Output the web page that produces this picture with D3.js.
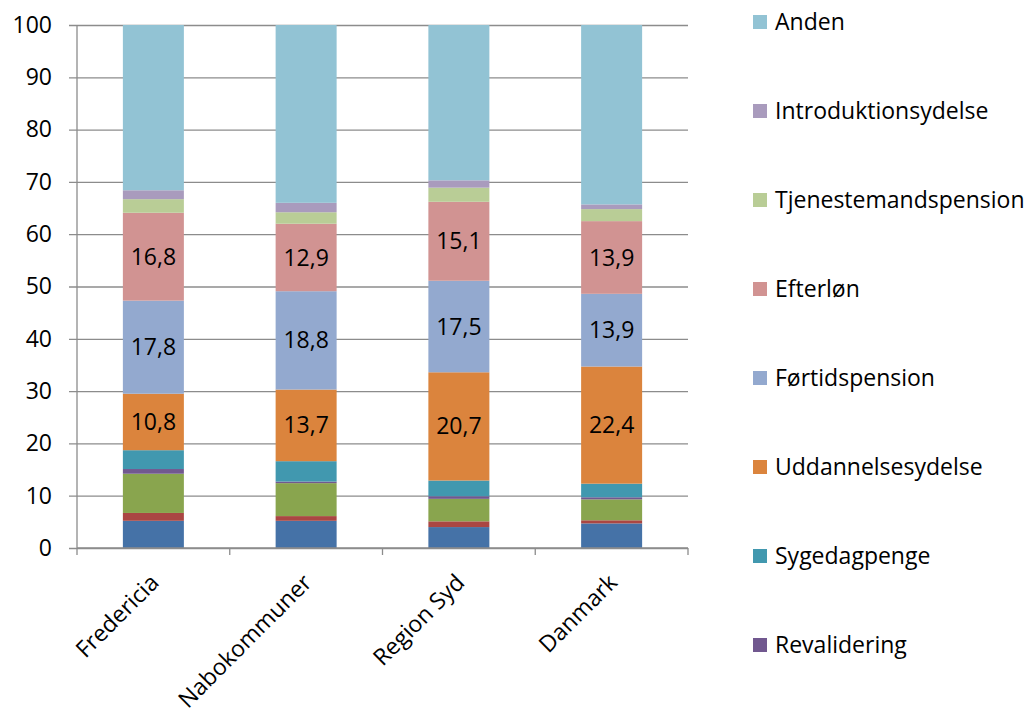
<!DOCTYPE html>
<html>
<head>
<meta charset="utf-8">
<script src="https://cdn.jsdelivr.net/npm/d3@7"></script>
<style>
  body { margin: 0; background: #fff; }
  svg { display: block; font-family: "Open Sans", "Liberation Sans", sans-serif; }
</style>
</head>
<body>
<svg id="chart" width="1028" height="713"></svg>
<script>
// categories on the x axis
const categories = ["Fredericia", "Nabokommuner", "Region Syd", "Danmark"];

// series, bottom to top (the three lowest are cut off the legend in the original)
const seriesNames = [
  "Dagpenge", "Kontanthjælp", "Aktivering", "Revalidering", "Sygedagpenge",
  "Uddannelsesydelse", "Førtidspension", "Efterløn", "Tjenestemandspension",
  "Introduktionsydelse", "Anden"
];
const seriesColors = [
  "#4572a7", "#aa4643", "#89a54e", "#71588f", "#4198af",
  "#db843d", "#93a9cf", "#d19392", "#b9cd96", "#a99bbd", "#92c3d4"
];

// percent values per series, in category order
const dagpenge        = [5.2, 5.2, 4.0, 4.7];
const kontant         = [1.5, 0.9, 1.1, 0.6];
const aktivering      = [7.5, 6.3, 4.3, 4.0];
const revalidering    = [0.9, 0.3, 0.5, 0.4];
const sygedagpenge    = [3.6, 3.9, 3.0, 2.6];
const uddannelse      = [10.8, 13.7, 20.7, 22.4];
const foertid         = [17.8, 18.8, 17.5, 13.9];
const efterloen       = [16.8, 12.9, 15.1, 13.9];
const tjenestemand    = [2.6, 2.2, 2.7, 2.3];
const introduktion    = [1.7, 1.8, 1.4, 0.9];
const anden           = [31.6, 34.0, 29.7, 34.3];

const seriesValues = [dagpenge, kontant, aktivering, revalidering, sygedagpenge,
  uddannelse, foertid, efterloen, tjenestemand, introduktion, anden];

// only these series carry data labels
const labelled = ["Uddannelsesydelse", "Førtidspension", "Efterløn"];

const yTicks = [0, 10, 20, 30, 40, 50, 60, 70, 80, 90, 100];

const config = {
  margin: { top: 25, left: 77 },
  plotWidth: 611,
  plotHeight: 523,
  barWidth: 61,
  legendX: 753,
  legendTop: 22,
  legendStep: 89,
  fontSize: 23
};

const svg = d3.select("#chart");
const W = +svg.attr("width"), H = +svg.attr("height");

const rows = categories.map((c, i) => {
  const r = { category: c };
  seriesNames.forEach((s, j) => { r[s] = seriesValues[j][i]; });
  return r;
});
const stacked = d3.stack().keys(seriesNames)(rows);

const x = d3.scaleBand().domain(categories).range([0, config.plotWidth]);
const y = d3.scaleLinear().domain([0, 100]).range([config.plotHeight, 0]);
const color = d3.scaleOrdinal().domain(seriesNames).range(seriesColors);

const g = svg.append("g")
  .attr("transform", `translate(${config.margin.left},${config.margin.top})`);

// gridlines + y axis
const yAxisG = g.append("g")
  .call(d3.axisLeft(y).tickValues(yTicks).tickSize(-config.plotWidth).tickPadding(25));
yAxisG.select(".domain").remove();
yAxisG.selectAll(".tick line").attr("stroke", "#8c8c8c").attr("stroke-width", 1.3).attr("x1", -8);
yAxisG.selectAll(".tick text")
  .attr("font-size", config.fontSize).attr("fill", "#000")
  .attr("font-family", "'Open Sans', sans-serif");

// bars
g.append("g").selectAll("g")
  .data(stacked)
  .join("g")
  .attr("fill", d => color(d.key))
  .selectAll("rect")
  .data(d => d)
  .join("rect")
  .attr("x", d => x(d.data.category) + (x.bandwidth() - config.barWidth) / 2)
  .attr("width", config.barWidth)
  .attr("y", d => y(d[1]))
  .attr("height", d => y(d[0]) - y(d[1]));

// data labels
g.append("g").selectAll("g")
  .data(stacked.filter(s => labelled.includes(s.key)))
  .join("g")
  .selectAll("text")
  .data(d => d)
  .join("text")
  .attr("x", d => x(d.data.category) + x.bandwidth() / 2)
  .attr("y", d => y((d[0] + d[1]) / 2))
  .attr("dy", "0.35em")
  .attr("text-anchor", "middle")
  .attr("font-size", config.fontSize)
  .attr("fill", "#000")
  .text(d => d3.format(".1f")(d[1] - d[0]).replace(".", ","));

// left axis line
g.append("line")
  .attr("x1", 0).attr("x2", 0).attr("y1", 0).attr("y2", config.plotHeight)
  .attr("stroke", "#8c8c8c").attr("stroke-width", 1.3);

// x axis
const xAxisG = g.append("g")
  .attr("transform", `translate(0,${config.plotHeight})`);
xAxisG.append("line")
  .attr("x1", 0).attr("x2", config.plotWidth)
  .attr("stroke", "#8c8c8c").attr("stroke-width", 1.3);
xAxisG.selectAll(".xtick")
  .data(d3.range(categories.length + 1))
  .join("line")
  .attr("class", "xtick")
  .attr("x1", i => i * x.step()).attr("x2", i => i * x.step())
  .attr("y1", 0).attr("y2", 7)
  .attr("stroke", "#8c8c8c").attr("stroke-width", 1.3);
xAxisG.selectAll(".xlabel")
  .data(categories)
  .join("text")
  .attr("class", "xlabel")
  .attr("text-anchor", "end")
  .attr("font-size", config.fontSize)
  .attr("fill", "#000")
  .attr("transform", d => `translate(${x(d) + x.bandwidth() / 2 + 7},${36}) rotate(-45)`)
  .text(d => d);

// legend: top series first, as many as fit
const legendItems = seriesNames.slice().reverse()
  .map((s, i) => ({ name: s, y: config.legendTop + i * config.legendStep }))
  .filter(d => d.y + 12 < H);

const legend = svg.append("g").selectAll("g")
  .data(legendItems)
  .join("g")
  .attr("transform", d => `translate(${config.legendX},${d.y})`);
legend.append("rect")
  .attr("x", 0).attr("y", -7).attr("width", 14).attr("height", 14)
  .attr("fill", d => color(d.name));
legend.append("text")
  .attr("x", 22).attr("dy", "0.35em")
  .attr("font-size", config.fontSize)
  .attr("fill", "#000")
  .text(d => d.name);
</script>
</body>
</html>
